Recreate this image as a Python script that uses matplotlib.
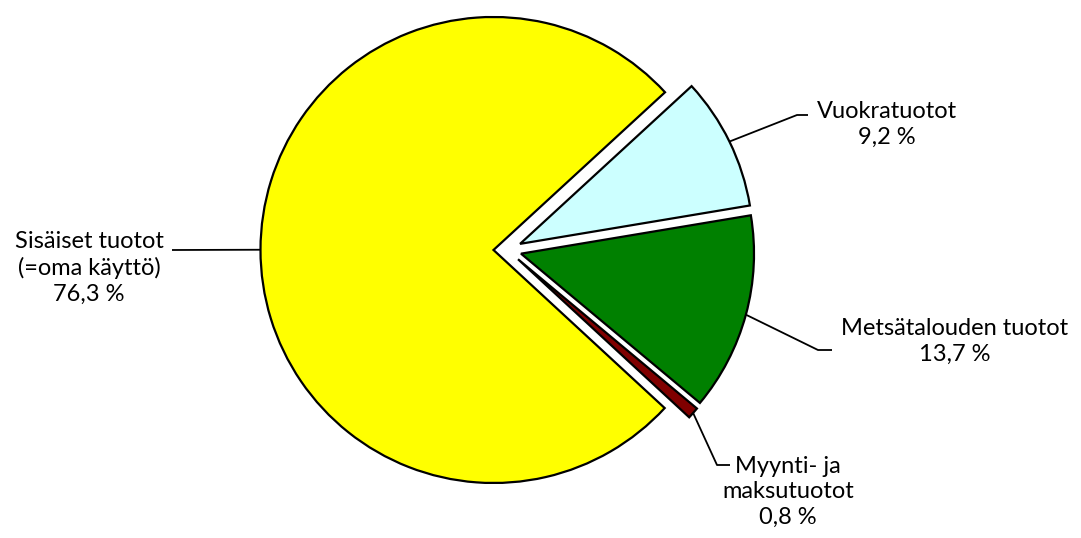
import numpy as np
import matplotlib
matplotlib.use("Agg")
import matplotlib.pyplot as plt

# data
labels = ["Sisäiset tuotot\n(=oma käyttö)", "Myynti- ja\nmaksutuotot", "Metsätalouden tuotot", "Vuokratuotot"]
shares = [76.3, 0.8, 13.7, 9.2]
pct_text = ["76,3 %", "0,8 %", "13,7 %", "9,2 %"]
colors = ["#FFFF00", "#800000", "#008000", "#CCFFFF"]

W, H = 1081, 538
fig = plt.figure(figsize=(W / 100, H / 100), dpi=100)
ax = fig.add_axes([0, 0, 1, 1])

R = 233
wedges, _ = ax.pie(shares, colors=colors, startangle=42.6, counterclock=True,
                   radius=R, center=(507.5, H - 250), explode=[14] * 4,
                   wedgeprops=dict(edgecolor="black", linewidth=1.6))
ax.set_xlim(0, W)
ax.set_ylim(0, H)
ax.set_aspect("auto")
ax.axis("off")

# label layout: (elbow x, elbow y, end x, text x, text y, ha) in px from top-left
layout = [
    (172, 250, 172, 89, 268, "center"),
    (717, 465, 730, 788, 492, "center"),
    (818, 350, 832, 955, 341, "center"),
    (797, 115, 808, 887, 124, "center"),
]

font = ["Lato", "DejaVu Sans"]
for w, lab, pct, (ex, ey, tx, lx, ly, ha) in zip(wedges, labels, pct_text, layout):
    tm = np.deg2rad((w.theta1 + w.theta2) / 2)
    cx, cy = w.center
    sx, sy = cx + w.r * np.cos(tm), cy + w.r * np.sin(tm)
    ax.plot([sx, ex, tx], [sy, H - ey, H - ey], color="black", lw=1.3,
            solid_capstyle="butt")
    ax.text(lx, H - ly, lab + "\n" + pct, ha=ha, va="center",
            multialignment="center", fontsize=17, family=font,
            linespacing=1.28)

fig.savefig("out.png", dpi=100)
